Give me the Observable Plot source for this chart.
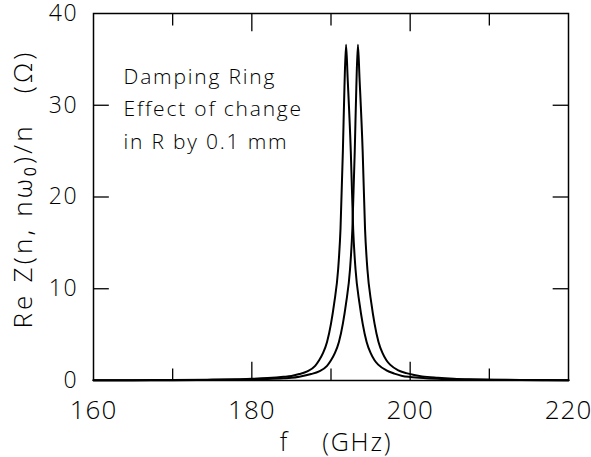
<!DOCTYPE html>
<html><head><meta charset="utf-8">
<script src="https://cdn.jsdelivr.net/npm/d3@7"></script>
<script src="https://cdn.jsdelivr.net/npm/@observablehq/plot@0.6"></script>
<style>
body{margin:0;background:#fff}
#chart svg{font-family:"Open Sans","DejaVu Sans",sans-serif;font-weight:300;color:#000;background:#fff}
#chart svg text{letter-spacing:1.8px}
#chart svg g[aria-label="x-axis tick label"] text{letter-spacing:1px}
</style>
</head><body><div id="chart"></div>
<script>
// Curve A (original radius) – frequency (GHz) and Re Z/n (Ω)
const freqA = [160,165,170,175,178,180,182,184,185,186,187,188,188.5,189,189.5,190,190.4,190.9,191.2,191.5,191.7,191.9,192.1,192.5,192.8,193.1,193.6,194,194.5,195,195.5,196,197,198,199,200,202,204,206,209,214,220];
const valA  = [0.03,0.04,0.06,0.1,0.14,0.18,0.26,0.4,0.5,0.7,1.0,1.6,2.2,3.0,4.2,6.2,8.4,12.1,16.5,25,32,36.6,33,25,16.5,12.1,8.4,6.2,4.2,3.0,2.2,1.7,1.1,0.75,0.5,0.38,0.25,0.17,0.12,0.08,0.05,0.03];
// Curve B (radius changed by 0.1 mm)
const freqB = [160,165,170,175,178,180,182,184,185,186,187.5,188.5,189.5,190,190.5,191,191.5,191.9,192.4,192.7,193.0,193.2,193.4,193.6,194.0,194.3,194.6,195.1,195.5,196,196.5,197,197.5,198.5,199.5,200.5,201.5,203.5,205.5,207.5,210.5,215,220];
const valB  = [0.02,0.03,0.04,0.06,0.09,0.11,0.16,0.24,0.3,0.42,0.7,1.0,1.6,2.2,3.0,4.2,6.2,8.4,12.1,16.5,25,32,36.6,33,25,16.5,12.1,8.4,6.2,4.2,3.0,2.2,1.7,1.1,0.8,0.6,0.45,0.3,0.2,0.14,0.09,0.06,0.04];

const xTickLabels = [160,180,200,220];
const xMajorInner = [180,200];
const xMinorInner = [170,190,210];
const yTickLabels = [0,10,20,30,40];
const yInner = [10,20,30];
const annotation = ["Damping Ring","Effect of change","in R by 0.1 mm"];
const xTitle = "f    (GHz)";
const yTitle = "Re Z(n, nω\u2080)/n   (Ω)";

const rowsA = freqA.map((f,i)=>({f, v: valA[i]}));
const rowsB = freqB.map((f,i)=>({f, v: valB[i]}));

const xDom = [160,220], yDom = [0,40];
const tickStyle = {stroke: "#000", strokeWidth: 1.3};
const chart = Plot.plot({
  width: 591, height: 457,
  marginLeft: 93, marginRight: 23, marginTop: 13, marginBottom: 77,
  x: {domain: xDom},
  y: {domain: yDom},
  marks: [
    Plot.frame({stroke: "#000", strokeWidth: 1.5}),
    Plot.axisX(xTickLabels, {tickSize: 0, tickPadding: 20, fontSize: 26, label: null}),
    Plot.axisY(yTickLabels, {tickSize: 0, tickPadding: 15, fontSize: 23, label: null}),
    Plot.line(rowsA, {x: "f", y: "v", stroke: "#000", strokeWidth: 2, curve: "monotone-x"}),
    Plot.line(rowsB, {x: "f", y: "v", stroke: "#000", strokeWidth: 2, curve: "monotone-x"}),
    // inward ticks, bottom and top
    Plot.ruleX(xMajorInner, {x: d=>d, y1: 0, y2: 2, ...tickStyle}),
    Plot.link(xMinorInner, {x1: d=>d, x2: d=>d, y1: 0, y2: 1.3, ...tickStyle}),
    Plot.ruleX(xMajorInner, {x: d=>d, y1: 40, y2: 38, ...tickStyle}),
    Plot.link(xMinorInner, {x1: d=>d, x2: d=>d, y1: 40, y2: 38.7, ...tickStyle}),
    // inward ticks, left and right
    Plot.ruleY(yInner, {y: d=>d, x1: 160, x2: 162, ...tickStyle}),
    Plot.link(yInner, {y1: d=>d, y2: d=>d, x1: 220, x2: 218, ...tickStyle}),
    Plot.text([annotation.join("\n")], {frameAnchor: "top-left", dx: 30, dy: 47, textAnchor: "start", lineAnchor: "top", fontSize: 21, lineHeight: 1.55, fill: "#000"}),
    Plot.text([xTitle], {frameAnchor: "bottom", dx: 5, dy: 70, lineAnchor: "bottom", fontSize: 25, fill: "#000"}),
    Plot.text([yTitle], {frameAnchor: "left", dx: -70, dy: -8, rotate: -90, textAnchor: "middle", lineAnchor: "middle", fontSize: 26, fill: "#000"})
  ]
});
document.getElementById("chart").appendChild(chart);
// wider tracking for the rotated y title, like the plotter lettering
d3.select(chart).selectAll("text").filter(function(){ return this.textContent === yTitle; }).style("letter-spacing", "3.2px");
</script>
</body></html>
